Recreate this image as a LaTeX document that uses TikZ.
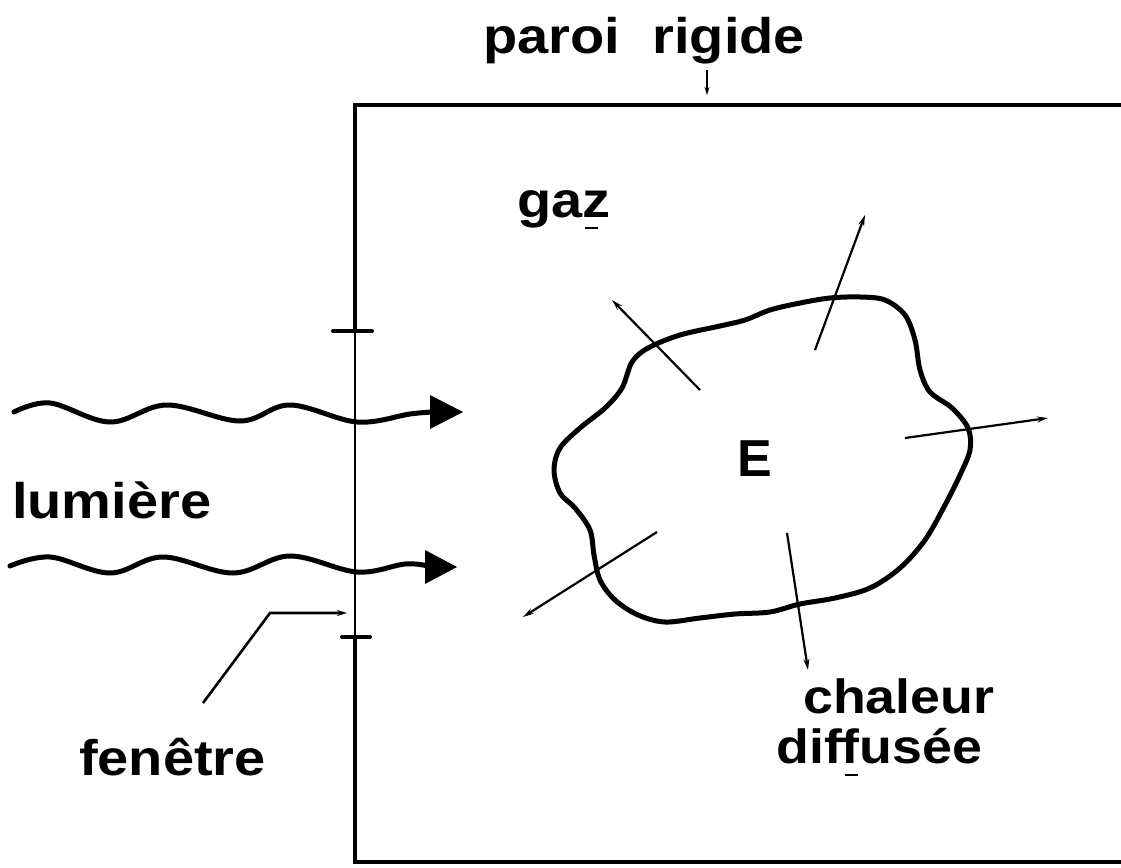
\documentclass[tikz,border=0pt]{standalone}
\usepackage{graphicx}
\usepackage{fontspec}
\setmainfont{Liberation Sans}
\usetikzlibrary{arrows.meta}
\newcommand\widelab[1]{\scalebox{1.12}[1]{#1}}
\begin{document}
\begin{tikzpicture}[x=1pt,y=-1pt,
  lbl/.style={font=\fontsize{50}{54}\selectfont\bfseries, inner sep=0pt, anchor=base west},
  lblsmall/.style={font=\fontsize{48}{52}\selectfont\bfseries, inner sep=0pt, anchor=base west},
  wall/.style={line width=4pt},
  window/.style={line width=2.4pt},
  tick/.style={line width=4pt, line cap=round},
  thinarrow/.style={line width=2.2pt, -{Stealth[length=11pt,width=6pt]}},
  wave/.style={line width=5pt, line cap=round},
  blob/.style={line width=5pt, line join=round},
  ulmark/.style={line width=2pt}]
\useasboundingbox (0,0) rectangle (1121,867);
% wall coordinates
\coordinate (TL) at (355,105);
\coordinate (TR) at (1121,105);
\coordinate (BL) at (355,862);
\coordinate (BR) at (1121,862);
\coordinate (W1) at (355,331);
\coordinate (W2) at (355,637);
\draw[wall] (TR) -- (TL) -- (W1);
\draw[window] (W1) -- (W2);
\draw[wall] (W2) -- (BL) -- (BR);
% window ticks
\coordinate (t1a) at (333,331); \coordinate (t1b) at (372,331);
\coordinate (t2a) at (342,637); \coordinate (t2b) at (370,637);
\draw[tick] (t1a) -- (t1b);
\draw[tick] (t2a) -- (t2b);
% labels
\node[lbl] (paroi) at (483,53) {\widelab{paroi\hspace{15pt} rigide}};
\node[lbl] (gaz) at (517,217) {\widelab{gaz}};
\node[lbl, font=\fontsize{52}{56}\selectfont\bfseries] (E) at (737,476) {E};
\node[lbl] (lum) at (12,518) {\widelab{lumière}};
\node[lbl] (fen) at (79,775) {\widelab{fenêtre}};
\node[lblsmall] (chal) at (803,713) {\widelab{chaleur}};
\node[lblsmall] (diff) at (776,763) {\widelab{diffusée}};
% underline marks
\coordinate (u1a) at (585,228); \coordinate (u1b) at (598,228);
\draw[ulmark] (u1a) -- (u1b);
\coordinate (u2a) at (845,775); \coordinate (u2b) at (858,775);
\draw[ulmark] (u2a) -- (u2b);
% arrow to top wall
\coordinate (pa) at (707,70); \coordinate (pb) at (707,95);
\draw[line width=1.6pt, -{Stealth[length=8pt,width=5pt]}] (pa) -- (pb);
% fenetre pointer
\coordinate (f1) at (203,703); \coordinate (f2) at (270,613); \coordinate (f3) at (347,613);
\draw[line width=2.6pt, -{Stealth[length=10pt,width=6pt]}] (f1) -- (f2) -- (f3);
% light waves
\draw[wave] plot[smooth, tension=0.6] coordinates {(14,412) (50,403) (110,422) (167,405) (240,421) (290,405) (357,422) (410,414) (433,412)};
\coordinate (h1) at (463,412);
\fill (430,395) -- (h1) -- (430,429) -- cycle;
\draw[wave] plot[smooth, tension=0.6] coordinates {(10,566) (50,557) (110,573) (163,557) (233,573) (290,556) (357,572) (405,564) (428,566)};
\coordinate (h2) at (457,567);
\fill (425,550) -- (h2) -- (425,584) -- cycle;
% body E
\draw[blob] plot[smooth cycle, tension=0.55] coordinates {
(648,348) (680,335) (720,326) (745,320) (770,310) (800,303) (830,298) (860,297) (885,300) (905,315) (915,340) (920,370) (930,392) (952,408) (968,428) (970,450) (960,475) (945,505) (925,540) (900,568) (870,588) (835,598) (800,604) (770,612) (735,614) (700,618) (665,622) (638,615) (615,600) (600,580) (594,555) (590,530) (575,508) (560,493) (554,470) (560,448) (580,428) (605,408) (622,388) (632,362)};
% heat arrows
\coordinate (a1s) at (700,390); \coordinate (a1e) at (612,300);
\coordinate (a2s) at (815,350); \coordinate (a2e) at (865,215);
\coordinate (a3s) at (905,438); \coordinate (a3e) at (1048,418);
\coordinate (a4s) at (657,532); \coordinate (a4e) at (523,617);
\coordinate (a5s) at (787,533); \coordinate (a5e) at (808,670);
\draw[thinarrow] (a1s) -- (a1e);
\draw[thinarrow] (a2s) -- (a2e);
\draw[thinarrow] (a3s) -- (a3e);
\draw[thinarrow] (a4s) -- (a4e);
\draw[thinarrow] (a5s) -- (a5e);
\end{tikzpicture}
\end{document}
